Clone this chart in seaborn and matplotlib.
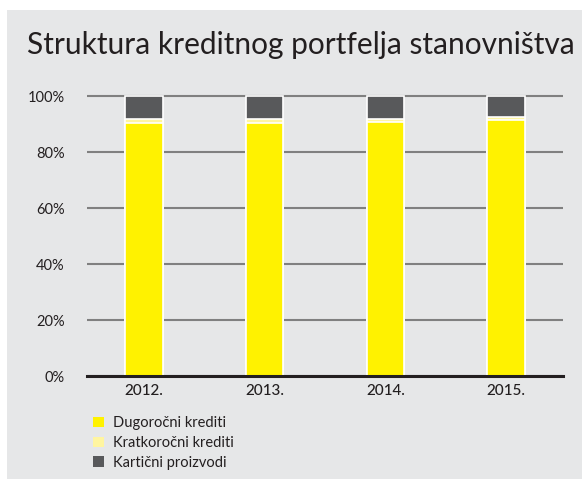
import seaborn as sns
import matplotlib.pyplot as plt
import pandas as pd
from matplotlib.patches import Patch, Rectangle

# data (share of portfolio, %)
years = ['2012.', '2013.', '2014.', '2015.']
dugorocni = [90.5, 90.5, 90.8, 91.3]
kratkorocni = [1.2, 1.2, 1.1, 1.1]
karticni = [8.3, 8.3, 8.1, 7.6]

c_dugo = '#FFF200'
c_kratko = '#FFF5A0'
c_kart = '#58595B'
bg = '#E6E7E8'

df = pd.DataFrame({'year': years, 'dugo': dugorocni,
                   'kratko': kratkorocni, 'kart': karticni})
df['lvl2'] = df['dugo'] + df['kratko']
df['lvl3'] = df['lvl2'] + df['kart']

sns.set_theme(style='white')
plt.rcParams['font.family'] = ['Lato', 'DejaVu Sans']

fig = plt.figure(figsize=(5.82, 4.79), dpi=100)
# grey panel with thin white strip at top/left
fig.patches.append(Rectangle((7 / 582, 0), 1, 1 - 10 / 479, transform=fig.transFigure,
                             facecolor=bg, edgecolor='none', zorder=-10))

ax = fig.add_axes([87 / 582, 103 / 479, 476 / 582, 285.6 / 479])
ax.set_facecolor('none')

# stacked bars: draw cumulative totals back to front
sns.barplot(data=df, x='year', y='lvl3', color=c_kart, width=0.31,
            edgecolor='white', linewidth=1.2, saturation=1, ax=ax, zorder=3)
sns.barplot(data=df, x='year', y='lvl2', color=c_kratko, width=0.31,
            edgecolor='white', linewidth=1.2, saturation=1, ax=ax, zorder=3)
sns.barplot(data=df, x='year', y='dugo', color=c_dugo, width=0.31,
            edgecolor='white', linewidth=1.2, saturation=1, ax=ax, zorder=3)

ax.set_xlim(-0.47, 3.47)
ax.set_ylim(0, 102)
ax.set_yticks([0, 20, 40, 60, 80, 100])
ax.set_yticklabels(['0%', '20%', '40%', '60%', '80%', '100%'])
ax.yaxis.grid(True, color='#808080', linewidth=1.5, zorder=1)
ax.set_axisbelow(True)
ax.tick_params(axis='y', length=0, pad=16, labelsize=10.5, labelcolor='#231F20')
ax.tick_params(axis='x', length=0, pad=6, labelsize=11, labelcolor='#231F20')
for lab in ax.get_xticklabels():
    lab.set_fontweight('medium')
ax.set_xlabel('')
ax.set_ylabel('')
for s in ['top', 'right', 'left']:
    ax.spines[s].set_visible(False)
ax.spines['bottom'].set_color('#231F20')
ax.spines['bottom'].set_linewidth(2.2)
ax.spines['bottom'].set_zorder(5)

fig.text(27 / 582, 1 - 45 / 479, 'Struktura kreditnog portfelja stanovništva',
         fontsize=21.5, fontweight='normal', color='#231F20', va='center', ha='left')

handles = [Patch(facecolor=c_dugo, edgecolor='none'),
           Patch(facecolor=c_kratko, edgecolor='none'),
           Patch(facecolor=c_kart, edgecolor='none')]
fig.legend(handles, ['Dugoročni krediti', 'Kratkoročni krediti', 'Kartični proizvodi'],
           loc='upper left', bbox_to_anchor=(80 / 582, 1 - 403 / 479),
           frameon=False, fontsize=10.5, handlelength=0.75, handleheight=0.75,
           handletextpad=0.6, labelspacing=0.4, labelcolor='#231F20')

fig.savefig('out.png', dpi=100, facecolor='white')
